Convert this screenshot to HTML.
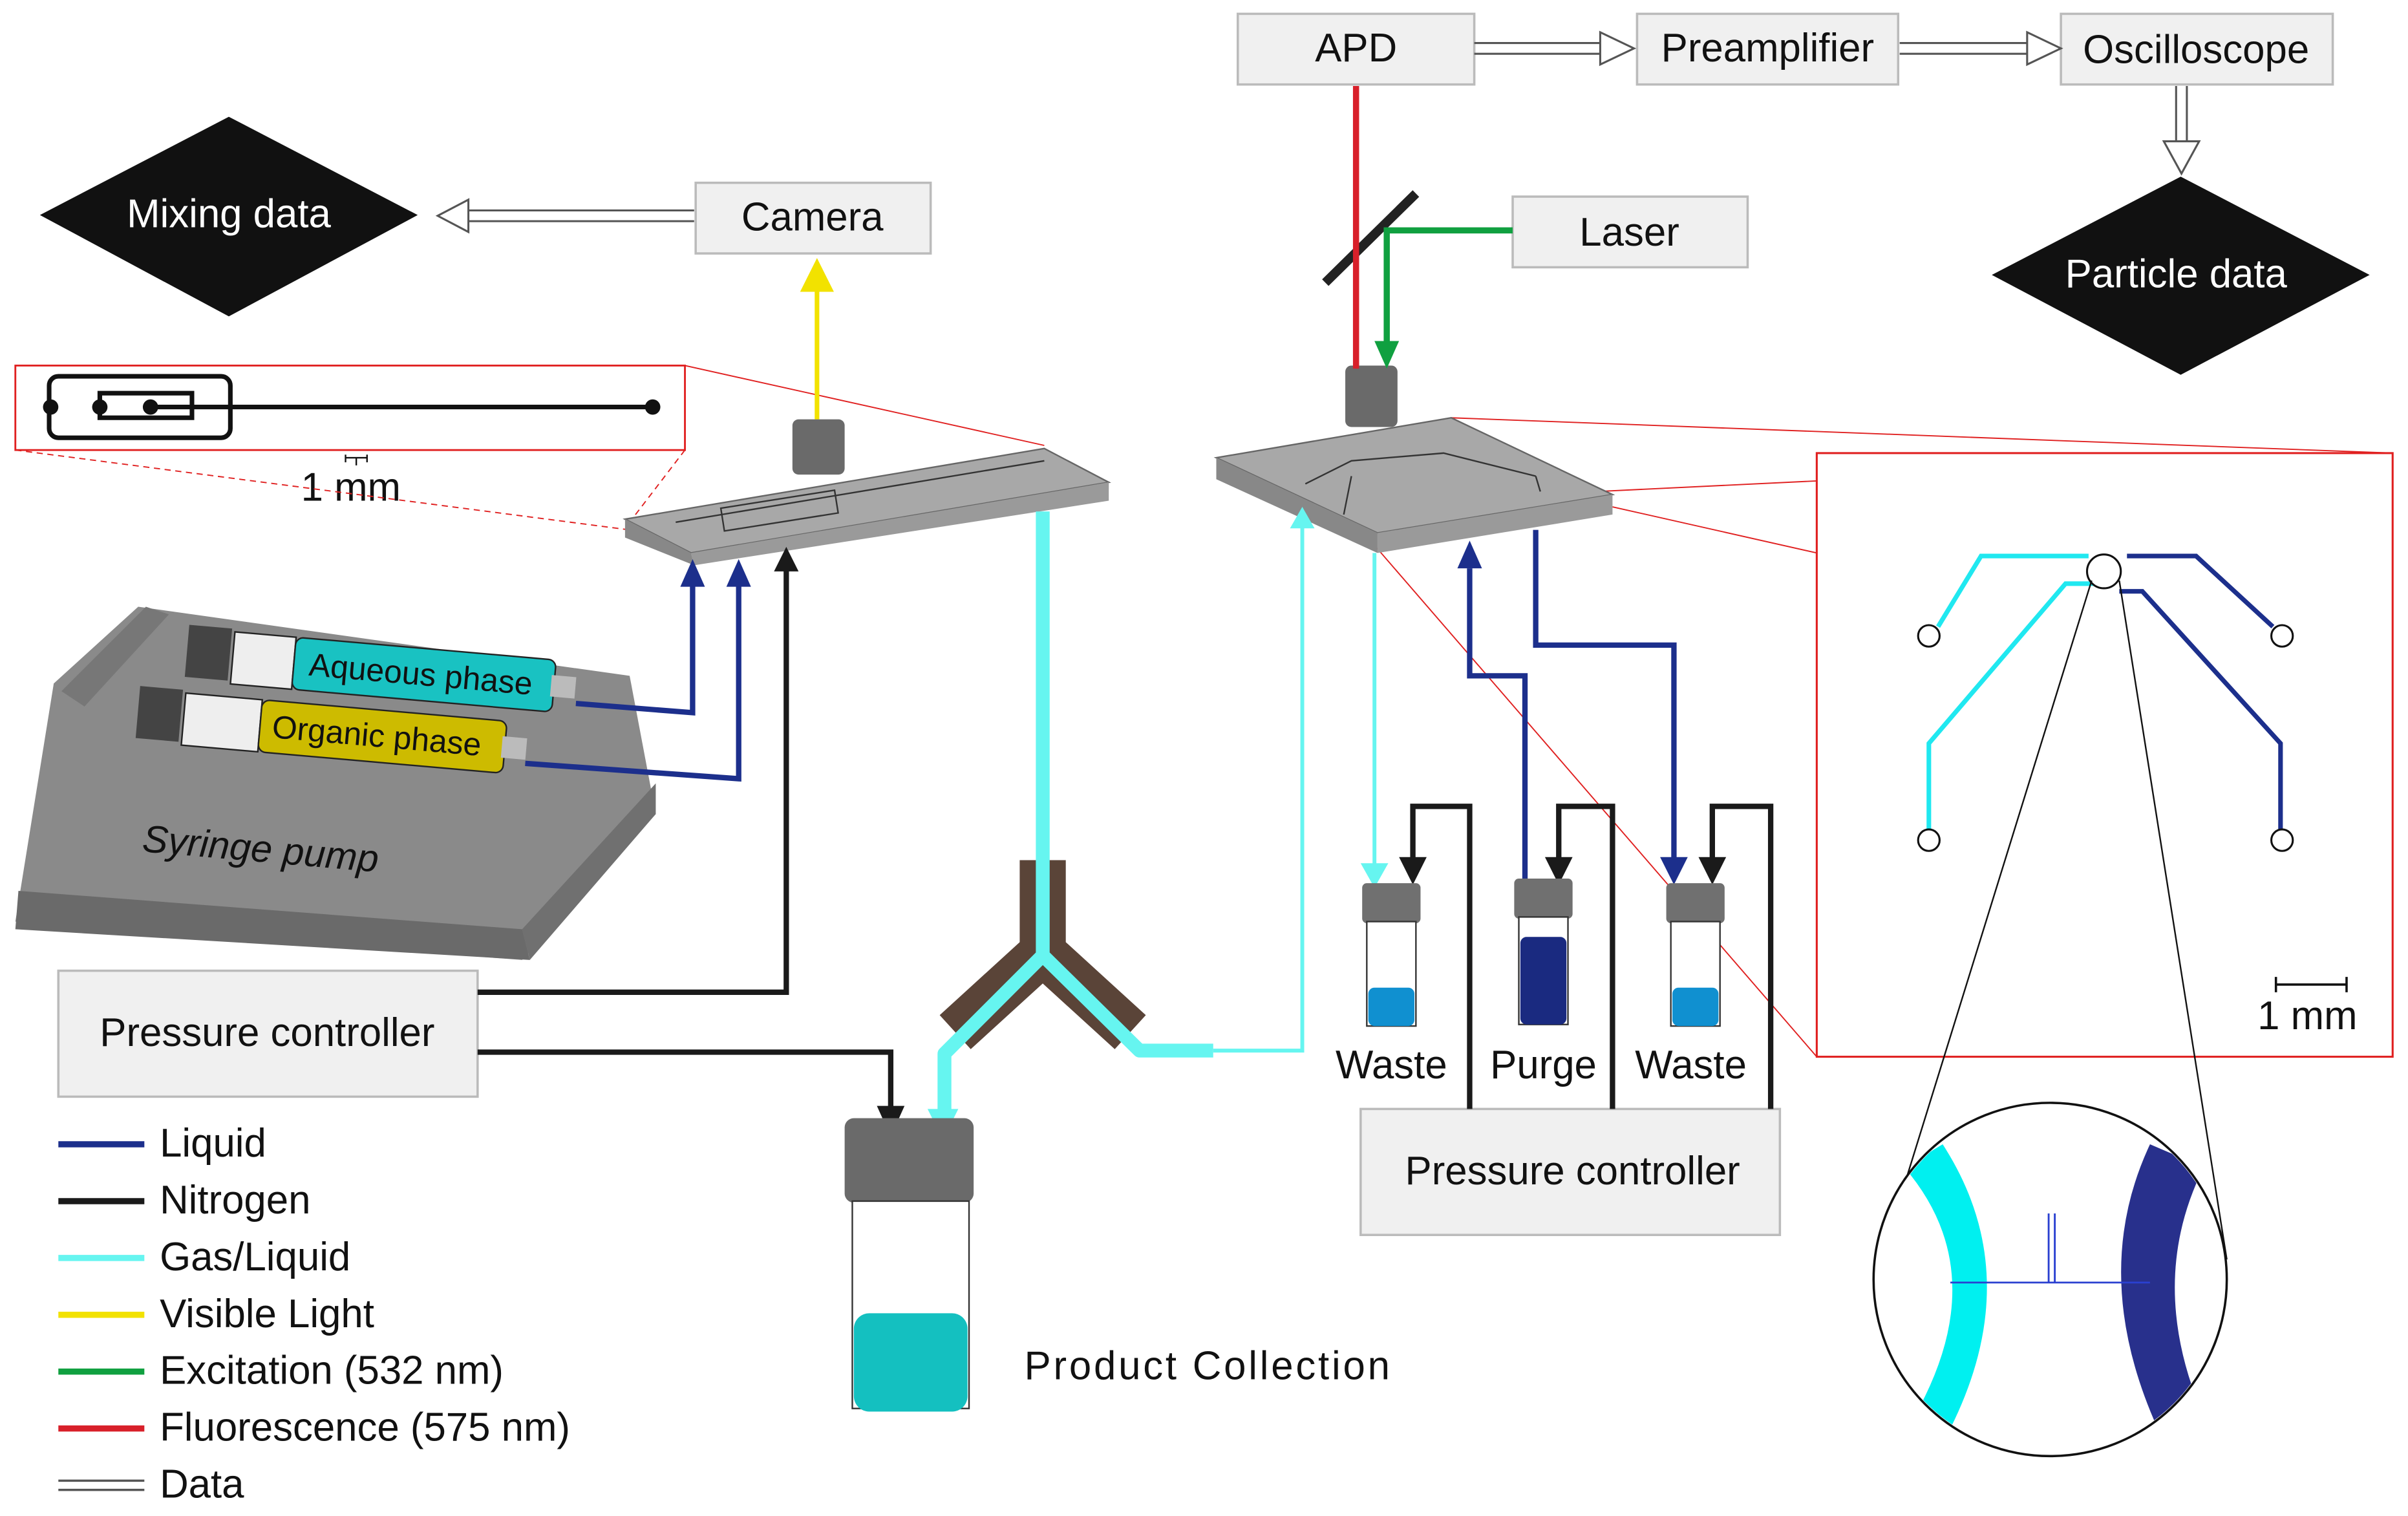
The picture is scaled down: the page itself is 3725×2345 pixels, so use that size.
<!DOCTYPE html>
<html><head><style>html,body{margin:0;padding:0;background:#fff}svg{display:block}text{font-family:"Liberation Sans",sans-serif}</style></head><body>
<svg width="3725" height="2345" viewBox="0 0 1568 987" preserveAspectRatio="none" xmlns="http://www.w3.org/2000/svg">
<!-- boxes -->
<g fill="#f0f0f0" stroke="#bbb" stroke-width="1.5">
<rect x="806" y="9" width="154" height="46"/>
<rect x="1066" y="9" width="170" height="46"/>
<rect x="1342" y="9" width="177" height="46"/>
<rect x="453" y="119" width="153" height="46"/>
<rect x="985" y="128" width="153" height="46"/>
<rect x="38" y="632" width="273" height="82"/>
<rect x="886" y="722" width="273" height="82"/>
</g>
<g font-size="26" fill="#111">
<text x="883" y="40" text-anchor="middle">APD</text>
<text x="1151" y="40" text-anchor="middle">Preamplifier</text>
<text x="1430" y="41" text-anchor="middle">Oscilloscope</text>
<text x="529" y="150" text-anchor="middle">Camera</text>
<text x="1061" y="160" text-anchor="middle">Laser</text>
<text x="174" y="681" text-anchor="middle">Pressure controller</text>
<text x="1024" y="771" text-anchor="middle">Pressure controller</text>
<text x="906" y="702" text-anchor="middle">Waste</text>
<text x="1005" y="702" text-anchor="middle">Purge</text>
<text x="1101" y="702" text-anchor="middle">Waste</text>
<text x="667" y="898" textLength="238">Product Collection</text>
<text x="196" y="326">1 mm</text>
</g>
<!-- diamonds -->
<polygon points="149,76 272,140 149,206 26,140" fill="#111"/>
<text x="149" y="148" font-size="26" fill="#fff" text-anchor="middle">Mixing data</text>
<polygon points="1420,115 1543,179 1420,244 1297,179" fill="#111"/>
<text x="1417" y="187" font-size="26" fill="#fff" text-anchor="middle">Particle data</text>
<!-- data arrows -->
<g stroke="#555" stroke-width="1.3" fill="#fff">
<path d="M960,28 H1042 M960,35 H1042"/><polygon points="1042,21 1064,31.5 1042,42"/>
<path d="M1237,28 H1320 M1237,35 H1320"/><polygon points="1320,21 1342,31.5 1320,42"/>
<path d="M1417,56 V92 M1424,56 V92"/><polygon points="1409,92 1420.5,113 1432,92"/>
<path d="M452,137 H305 M452,144 H305"/><polygon points="305,130 285,140.5 305,151"/>
</g>
<!-- inset chip top-left -->
<rect x="10" y="238" width="436" height="55" fill="#fff" stroke="#e02020" stroke-width="1.2"/>
<g stroke="#e02020" stroke-width="0.8" fill="none">
<path d="M446,238 L680,290"/><path d="M446,293 L410,340" stroke-dasharray="4,3"/><path d="M10,293 L410,345" stroke-dasharray="4,3"/>
<path d="M945,272 L1558,295"/><path d="M1040,320 L1558,295"/><path d="M895,355 L1183,688"/><path d="M1050,330 L1183,360"/>
</g>
<g stroke="#111" stroke-width="3" fill="none">
<rect x="32" y="245" width="118" height="40" rx="6"/>
<path d="M65,256 h60 v16 h-60 z"/>
<path d="M98,265 H425"/>
</g>
<g fill="#111"><circle cx="33" cy="265" r="5"/><circle cx="65" cy="265" r="5"/><circle cx="98" cy="265" r="5"/><circle cx="425" cy="265" r="5"/></g>
<path d="M225,298 h14 M232,298 v5 M225,296 v5 M239,296 v5" stroke="#111" stroke-width="1"/>
<!-- left chip -->
<polygon points="407,338 680,292 722,314 450,360" fill="#a8a8a8" stroke="#666"/>
<polygon points="407,338 450,360 452,368 407,350" fill="#888"/>
<polygon points="450,360 722,314 722,326 452,368" fill="#9a9a9a"/>
<path d="M440,340 L680,300" stroke="#333" stroke-width="1"/>
<rect x="470" y="325" width="75" height="15" fill="none" stroke="#333" transform="rotate(-9 507 332)"/>
<!-- right chip -->
<polygon points="792,298 945,272 1050,322 897,347" fill="#a8a8a8" stroke="#666"/>
<polygon points="792,298 897,347 897,360 792,312" fill="#888"/>
<polygon points="897,347 1050,322 1050,335 897,360" fill="#9a9a9a"/>
<path d="M850,315 L880,300 L940,295 L1000,310 M875,335 L880,310 M1000,310 L1003,320" stroke="#333" fill="none"/>
<!-- objectives -->
<rect x="516" y="273" width="34" height="36" rx="4" fill="#6a6a6a"/>
<rect x="876" y="238" width="34" height="40" rx="4" fill="#6a6a6a"/>
<!-- mirror -->
<path d="M863,184 L922,126" stroke="#222" stroke-width="6"/>
<!-- light lines -->
<path d="M883,56 V240" stroke="#d8202a" stroke-width="4"/>
<path d="M985,150 H903 V225" stroke="#10a040" stroke-width="4" fill="none"/>
<polygon points="895,222 903,240 911,222" fill="#10a040"/>
<path d="M532,273 V185" stroke="#f2e200" stroke-width="3"/>
<polygon points="521,190 532,168 543,190" fill="#f2e200"/>
<!-- syringe pump -->
<polygon points="35,445 90,395 410,440 427,530 340,625 10,600" fill="#8a8a8a"/>
<polygon points="12,580 340,605 345,625 10,605" fill="#6a6a6a"/>
<polygon points="40,450 95,395 110,400 55,460" fill="#777"/>
<polygon points="340,605 427,510 427,530 345,625" fill="#707070"/>
<g transform="rotate(5 250 450)">
<rect x="120" y="418" width="28" height="34" fill="#444"/>
<rect x="150" y="420" width="40" height="34" fill="#eee" stroke="#222"/>
<rect x="190" y="420" width="170" height="34" rx="5" fill="#19c2c2" stroke="#222"/>
<rect x="358" y="430" width="16" height="14" fill="#bbb"/>
<text x="200" y="444" font-size="21" fill="#111">Aqueous phase</text>
</g>
<g transform="rotate(5 220 490)">
<rect x="88" y="458" width="28" height="34" fill="#444"/>
<rect x="118" y="460" width="50" height="34" fill="#eee" stroke="#222"/>
<rect x="168" y="460" width="160" height="34" rx="5" fill="#cdbb00" stroke="#222"/>
<rect x="326" y="470" width="16" height="14" fill="#bbb"/>
<text x="176" y="484" font-size="21" fill="#111">Organic phase</text>
</g>
<text x="92" y="562" font-size="25" fill="#111" font-style="italic" transform="rotate(5 180 560)">Syringe pump</text>
<!-- liquid lines -->
<g stroke="#1c2f8c" stroke-width="3.5" fill="none">
<path d="M375,458 L451,464 V378"/><path d="M342,497 L481,507 V378"/>
<path d="M957,370 V440 H993 V575"/><path d="M1000,345 V420 H1090 V560"/>
</g>
<g fill="#1c2f8c"><polygon points="443,382 451,364 459,382"/><polygon points="473,382 481,364 489,382"/><polygon points="949,370 957,352 965,370"/><polygon points="1081,558 1090,576 1099,558"/></g>
<!-- nitrogen lines -->
<g stroke="#1a1a1a" stroke-width="3.5" fill="none">
<path d="M311,646 H512 V370"/><path d="M311,685 H580 V725"/>
<path d="M957,722 V525 H920 V560"/><path d="M1050,722 V525 H1015 V560"/><path d="M1153,722 V525 H1115 V560"/>
</g>
<g fill="#1a1a1a"><polygon points="504,372 512,356 520,372"/><polygon points="571,720 580,740 589,720"/><polygon points="911,558 920,576 929,558"/><polygon points="1006,558 1015,576 1024,558"/><polygon points="1106,558 1115,576 1124,558"/></g>
<!-- Y connector -->
<path d="M679,560 V620 L622,672 M679,620 L736,672" stroke="#5a4438" stroke-width="30" fill="none"/>
<path d="M679,333 V622 L615,686 V727 M679,622 L742,684 H790" stroke="#66f5f0" stroke-width="9" fill="none" stroke-linejoin="round"/>
<path d="M790,684 H848 V340" stroke="#66f5f0" stroke-width="2.5" fill="none"/>
<polygon points="840,344 848,330 856,344" fill="#66f5f0"/>
<polygon points="604,722 614,742 624,722" fill="#66f5f0"/>
<path d="M895,360 V565" stroke="#66f5f0" stroke-width="2.5"/>
<polygon points="886,562 895,578 904,562" fill="#66f5f0"/>
<!-- vials -->
<g>
<rect x="887" y="575" width="38" height="26" rx="3" fill="#707070"/><rect x="890" y="600" width="32" height="68" fill="#fff" stroke="#333"/><rect x="891" y="643" width="30" height="25" rx="4" fill="#1090d0"/>
<rect x="986" y="572" width="38" height="26" rx="3" fill="#707070"/><rect x="989" y="597" width="32" height="70" fill="#fff" stroke="#333"/><rect x="990" y="610" width="30" height="57" rx="4" fill="#1a2a80"/>
<rect x="1085" y="575" width="38" height="26" rx="3" fill="#707070"/><rect x="1088" y="600" width="32" height="68" fill="#fff" stroke="#333"/><rect x="1089" y="643" width="30" height="25" rx="4" fill="#1090d0"/>
<rect x="550" y="728" width="84" height="55" rx="6" fill="#6a6a6a"/><rect x="555" y="782" width="76" height="135" fill="#fff" stroke="#333"/><rect x="556" y="855" width="74" height="64" rx="10" fill="#14c0c0"/>
</g>
<!-- right inset -->
<rect x="1183" y="295" width="375" height="393" fill="#fff" stroke="#e02020" stroke-width="1.3"/>
<g fill="none" stroke-width="3">
<path d="M1262,408 L1290,362 H1360 M1256,540 V484 L1345,380 H1365" stroke="#20e8f0"/>
<path d="M1480,408 L1430,362 H1385 M1485,540 V484 L1395,385 H1380" stroke="#1c2f8c"/>
</g>
<g fill="#fff" stroke="#111" stroke-width="1.3"><circle cx="1256" cy="414" r="7"/><circle cx="1486" cy="414" r="7"/><circle cx="1256" cy="547" r="7"/><circle cx="1486" cy="547" r="7"/><circle cx="1370" cy="372" r="11"/></g>
<path d="M1482,641 h46 M1482,636 v10 M1528,636 v10" stroke="#111" stroke-width="1.5"/>
<text x="1470" y="670" font-size="26" fill="#111">1 mm</text>
<path d="M1362,378 L1225,820 M1380,378 L1450,820" stroke="#111" stroke-width="1"/>
<circle cx="1335" cy="833" r="115" fill="#fff" stroke="#111" stroke-width="1.5"/>
<clipPath id="cc"><circle cx="1335" cy="833" r="114"/></clipPath>
<g clip-path="url(#cc)">
<path d="M1240,760 Q1300,830 1245,925 L1270,930 Q1320,830 1265,745 Z" fill="#00f0f0"/>
<path d="M1400,745 Q1360,830 1405,930 L1430,910 Q1400,830 1435,760 Z" fill="#28308c"/>
<path d="M1270,835 H1400 M1334,835 V790 M1338,835 V790" stroke="#2a40d0" stroke-width="1.2"/>
</g>
<!-- legend -->
<g stroke-width="4">
<path d="M38,745 H94" stroke="#1c2f8c"/><path d="M38,782 H94" stroke="#1a1a1a"/><path d="M38,819 H94" stroke="#66f5f0"/><path d="M38,856 H94" stroke="#f2e200"/><path d="M38,893 H94" stroke="#10a040"/><path d="M38,930 H94" stroke="#d8202a"/>
</g>
<path d="M38,964 H94 M38,970 H94" stroke="#555" stroke-width="1.5"/>
<g font-size="26" fill="#111">
<text x="104" y="753">Liquid</text><text x="104" y="790">Nitrogen</text><text x="104" y="827">Gas/Liquid</text><text x="104" y="864">Visible Light</text><text x="104" y="901">Excitation (532 nm)</text><text x="104" y="938">Fluorescence (575 nm)</text><text x="104" y="975">Data</text>
</g>
</svg>
</body></html>
